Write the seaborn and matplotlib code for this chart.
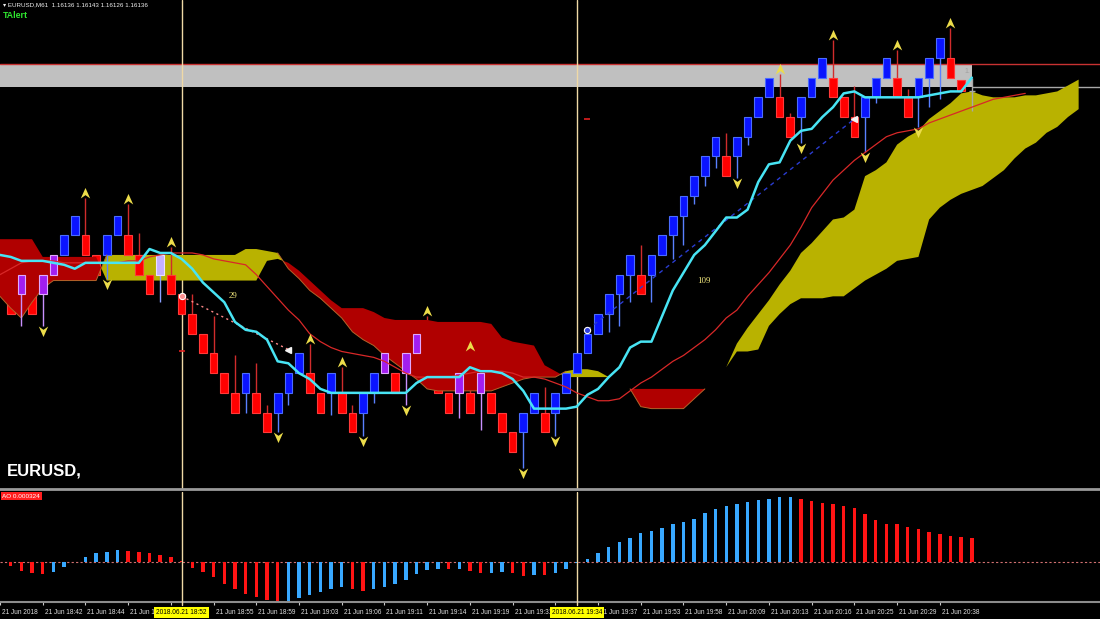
import numpy as np
import pandas as pd
import matplotlib
matplotlib.use("Agg")
import matplotlib.pyplot as plt
import matplotlib.transforms as mtransforms
from matplotlib.path import Path
import seaborn as sns

# ---------------- data ----------------
candle_bars = list(range(1, 92))
opens = [1.16033, 1.16033, 1.16033, 1.16033, 1.16043, 1.16053, 1.16063, 1.16063, 1.16053, 1.16053,
         1.16063, 1.16063, 1.16053, 1.16043, 1.16043, 1.16043, 1.16033, 1.16023, 1.16013, 1.16003,
         1.15993, 1.15983, 1.15983, 1.15983, 1.15973, 1.15973, 1.15983, 1.15993, 1.15993, 1.15983,
         1.15983, 1.15983, 1.15973, 1.15973, 1.15983, 1.15993, 1.15993, 1.15993, 1.16003, 1.16003,
         1.15993, 1.15983, 1.15983, 1.15983, 1.15983, 1.15983, 1.15973, 1.15963, 1.15963, 1.15973,
         1.15973, 1.15973, 1.15983, 1.15993, 1.16003, 1.16013, 1.16023, 1.16033, 1.16043, 1.16043,
         1.16043, 1.16053, 1.16063, 1.16073, 1.16083, 1.16093, 1.16103, 1.16103, 1.16103, 1.16113,
         1.16123, 1.16133, 1.16133, 1.16123, 1.16123, 1.16133, 1.16143, 1.16143, 1.16133, 1.16123,
         1.16123, 1.16133, 1.16143, 1.16143, 1.16133, 1.16133, 1.16143, 1.16153, 1.16153, 1.16142,
         1.16136]
highs = [1.16033, 1.16043, 1.16033, 1.16043, 1.16053, 1.16063, 1.16073, 1.16082, 1.16053, 1.16063,
         1.16073, 1.16079, 1.16064, 1.16043, 1.16053, 1.16057, 1.16033, 1.16033, 1.16013, 1.16022,
         1.15993, 1.16002, 1.15993, 1.15998, 1.15977, 1.15983, 1.15993, 1.16003, 1.16008, 1.15983,
         1.15993, 1.15996, 1.15977, 1.15983, 1.15993, 1.16003, 1.15993, 1.16003, 1.16013, 1.16022,
         1.15993, 1.15983, 1.15993, 1.16004, 1.15993, 1.15983, 1.15973, 1.15963, 1.15973, 1.15983,
         1.15986, 1.15983, 1.15993, 1.16003, 1.16013, 1.16023, 1.16033, 1.16043, 1.16053, 1.16058,
         1.16053, 1.16063, 1.16073, 1.16083, 1.16093, 1.16103, 1.16113, 1.16115, 1.16113, 1.16123,
         1.16133, 1.16143, 1.16145, 1.16125, 1.16133, 1.16143, 1.16153, 1.16162, 1.16133, 1.16139,
         1.16133, 1.16143, 1.16153, 1.16157, 1.16137, 1.16143, 1.16153, 1.16163, 1.16168, 1.16142,
         1.16143]
lows = [1.16023, 1.16017, 1.16023, 1.16017, 1.16043, 1.16053, 1.16063, 1.16053, 1.16043, 1.16041,
        1.16063, 1.16053, 1.16043, 1.16033, 1.16029, 1.16033, 1.16023, 1.16013, 1.16003, 1.15993,
        1.15983, 1.15973, 1.15973, 1.15973, 1.15963, 1.15963, 1.15977, 1.15993, 1.15983, 1.15973,
        1.15972, 1.15973, 1.15963, 1.15961, 1.15978, 1.15993, 1.15983, 1.15977, 1.16003, 1.15993,
        1.15983, 1.15973, 1.15970, 1.15973, 1.15964, 1.15973, 1.15963, 1.15953, 1.15945, 1.15973,
        1.15963, 1.15961, 1.15983, 1.15993, 1.16003, 1.16013, 1.16014, 1.16017, 1.16029, 1.16033,
        1.16029, 1.16053, 1.16051, 1.16058, 1.16079, 1.16088, 1.16097, 1.16093, 1.16092, 1.16109,
        1.16123, 1.16133, 1.16123, 1.16113, 1.16110, 1.16133, 1.16143, 1.16133, 1.16123, 1.16113,
        1.16105, 1.16130, 1.16143, 1.16133, 1.16123, 1.16118, 1.16128, 1.16132, 1.16143, 1.16136,
        1.16126]
closes = [1.16023, 1.16043, 1.16023, 1.16043, 1.16053, 1.16063, 1.16073, 1.16053, 1.16043, 1.16063,
          1.16073, 1.16053, 1.16043, 1.16033, 1.16053, 1.16033, 1.16023, 1.16013, 1.16003, 1.15993,
          1.15983, 1.15973, 1.15993, 1.15973, 1.15963, 1.15983, 1.15993, 1.16003, 1.15983, 1.15973,
          1.15993, 1.15973, 1.15963, 1.15983, 1.15993, 1.16003, 1.15983, 1.16003, 1.16013, 1.15993,
          1.15983, 1.15973, 1.15993, 1.15973, 1.15993, 1.15973, 1.15963, 1.15953, 1.15973, 1.15983,
          1.15963, 1.15983, 1.15993, 1.16003, 1.16013, 1.16023, 1.16033, 1.16043, 1.16053, 1.16033,
          1.16053, 1.16063, 1.16073, 1.16083, 1.16093, 1.16103, 1.16113, 1.16093, 1.16113, 1.16123,
          1.16133, 1.16143, 1.16123, 1.16113, 1.16133, 1.16143, 1.16153, 1.16133, 1.16123, 1.16113,
          1.16133, 1.16143, 1.16153, 1.16133, 1.16123, 1.16143, 1.16153, 1.16163, 1.16143, 1.16136,
          1.16136]
# '' = normal candle, 'p' = purple signal candle, 'l' = lavender signal candle
candle_tags = ['', 'p', '', 'p', 'p', '', '', '', '', '',
               '', '', '', '', 'l', '', '', '', '', '',
               '', '', '', '', '', '', '', '', '', '',
               '', '', '', '', '', 'p', '', 'p', 'p', '',
               '', '', 'p', '', 'p', '', '', '', '', '',
               '', '', '', '', '', '', '', '', '', '',
               '', '', '', '', '', '', '', '', '', '',
               '', '', '', '', '', '', '', '', '', '',
               '', '', '', '', '', '', '', '', '', '',
               '']

line_bars = list(range(0, 92))
cyan_line = [1.16053, 1.16052, 1.16050, 1.16050, 1.16050, 1.16049, 1.16048, 1.16046, 1.16049, 1.16049,
             1.16049, 1.16049, 1.16049, 1.16049, 1.16056, 1.16054, 1.16054, 1.16051, 1.16046, 1.16039,
             1.16034, 1.16029, 1.16019, 1.16015, 1.16014, 1.16010, 1.15999, 1.15998, 1.15993, 1.15990,
             1.15985, 1.15983, 1.15983, 1.15983, 1.15983, 1.15983, 1.15983, 1.15983, 1.15983, 1.15988,
             1.15991, 1.15991, 1.15991, 1.15991, 1.15996, 1.15994, 1.15994, 1.15993, 1.15990, 1.15984,
             1.15975, 1.15975, 1.15975, 1.15975, 1.15976, 1.15982, 1.15985, 1.15991, 1.15996, 1.16006,
             1.16009, 1.16009, 1.16022, 1.16035, 1.16044, 1.16053, 1.16058, 1.16065, 1.16072, 1.16072,
             1.16076, 1.16090, 1.16099, 1.16100, 1.16111, 1.16116, 1.16117, 1.16123, 1.16128, 1.16135,
             1.16136, 1.16133, 1.16133, 1.16133, 1.16133, 1.16133, 1.16133, 1.16134, 1.16135, 1.16136,
             1.16136, 1.16143]

ma_bars = list(range(0, 97))
red_line = [1.16043, 1.16046, 1.16049, 1.16050, 1.16050, 1.16050, 1.16049, 1.16049, 1.16049, 1.16049,
            1.16049, 1.16049, 1.16050, 1.16050, 1.16052, 1.16053, 1.16054, 1.16054, 1.16054, 1.16053,
            1.16051, 1.16050, 1.16049, 1.16048, 1.16043, 1.16037, 1.16031, 1.16025, 1.16020, 1.16013,
            1.16009, 1.16006, 1.16004, 1.16003, 1.16002, 1.16001, 1.15999, 1.15996, 1.15993, 1.15991,
            1.15991, 1.15991, 1.15991, 1.15992, 1.15993, 1.15994, 1.15994, 1.15994, 1.15993, 1.15991,
            1.15991, 1.15990, 1.15988, 1.15986, 1.15983, 1.15981, 1.15979, 1.15979, 1.15980, 1.15984,
            1.15988, 1.15991, 1.15995, 1.15999, 1.16002, 1.16006, 1.16010, 1.16015, 1.16021, 1.16025,
            1.16032, 1.16038, 1.16044, 1.16051, 1.16058, 1.16067, 1.16077, 1.16084, 1.16091, 1.16096,
            1.16101, 1.16105, 1.16109, 1.16113, 1.16115, 1.16116, 1.16117, 1.16120, 1.16122, 1.16124,
            1.16126, 1.16128, 1.16130, 1.16132, 1.16133, 1.16134, 1.16135]

cloud_bars = list(range(0, 102))
span_a = [1.16032, 1.16026, 1.16021, 1.16029, 1.16036, 1.16040, 1.16040, 1.16040, 1.16040, 1.16040,
          1.16053, 1.16053, 1.16053, 1.16053, 1.16053, 1.16053, 1.16053, 1.16053, 1.16053, 1.16053,
          1.16053, 1.16053, 1.16053, 1.16056, 1.16056, 1.16055, 1.16054, 1.16046, 1.16041, 1.16035,
          1.16031, 1.16026, 1.16021, 1.16014, 1.16010, 1.16007, 1.16002, 1.15998, 1.15994, 1.15990,
          1.15985, 1.15984, 1.15984, 1.15984, 1.15984, 1.15984, 1.15984, 1.15986, 1.15988, 1.15990,
          1.15991, 1.15991, 1.15991, 1.15994, 1.15995, 1.15995, 1.15994, 1.15991, 1.15988, 1.15985,
          1.15976, 1.15975, 1.15975, 1.15975, 1.15975, 1.15980, 1.15985, 1.15991, 1.15996, 1.16008,
          1.16016, 1.16023, 1.16030, 1.16038, 1.16045, 1.16054, 1.16059, 1.16065, 1.16071, 1.16072,
          1.16076, 1.16093, 1.16096, 1.16100, 1.16109, 1.16113, 1.16116, 1.16122, 1.16126, 1.16130,
          1.16135, 1.16136, 1.16134, 1.16133, 1.16133, 1.16133, 1.16134, 1.16134, 1.16135, 1.16136,
          1.16139, 1.16142]
span_b = [1.16061, 1.16061, 1.16061, 1.16061, 1.16052, 1.16052, 1.16052, 1.16052, 1.16052, 1.16052,
          1.16040, 1.16040, 1.16040, 1.16040, 1.16040, 1.16040, 1.16040, 1.16040, 1.16040, 1.16040,
          1.16040, 1.16040, 1.16040, 1.16040, 1.16040, 1.16050, 1.16051, 1.16049, 1.16045, 1.16040,
          1.16035, 1.16030, 1.16026, 1.16026, 1.16026, 1.16024, 1.16021, 1.16020, 1.16020, 1.16020,
          1.16020, 1.16019, 1.16019, 1.16019, 1.16019, 1.16019, 1.16018, 1.16011, 1.16009, 1.16008,
          1.16007, 1.15997, 1.15994, 1.15991, 1.15991, 1.15991, 1.15991, 1.15991, 1.15988, 1.15985,
          1.15985, 1.15985, 1.15985, 1.15985, 1.15985, 1.15985, 1.15985, 1.15991, 1.15996, 1.16004,
          1.16004, 1.16005, 1.16017, 1.16023, 1.16028, 1.16031, 1.16031, 1.16031, 1.16032, 1.16032,
          1.16036, 1.16040, 1.16043, 1.16046, 1.16050, 1.16051, 1.16052, 1.16071, 1.16077, 1.16081,
          1.16084, 1.16086, 1.16088, 1.16092, 1.16096, 1.16102, 1.16107, 1.16110, 1.16115, 1.16118,
          1.16123, 1.16127]

ao_bars = list(range(1, 92))
ao_e5 = [-5.4, -12.2, -14.9, -16.2, -13.5, -6.8, 0.4, 6.8, 12.2, 13.5,
         16.2, 14.9, 13.5, 12.2, 9.5, 6.8, 1.4, -8.1, -13.5, -20.3,
         -29.7, -36.5, -43.2, -47.3, -51.3, -54.0, -52.7, -48.6, -44.6, -40.5,
         -36.5, -33.8, -36.5, -39.2, -36.5, -33.8, -29.7, -24.3, -16.2, -10.8,
         -9.5, -9.8, -9.3, -12.2, -15.2, -14.9, -13.5, -14.9, -18.9, -17.6,
         -17.8, -14.9, -9.5, -0.8, 4.1, 12.2, 20.3, 27.0, 32.4, 39.2,
         41.9, 45.9, 51.3, 54.0, 58.1, 66.2, 71.6, 75.6, 78.3, 81.0,
         83.7, 85.1, 87.8, 88.2, 85.1, 82.4, 79.7, 78.3, 75.6, 72.9,
         64.8, 56.7, 51.3, 51.0, 47.3, 44.6, 40.5, 37.8, 35.1, 33.8,
         32.4]

up_fractals = [8, 12, 16, 29, 32, 40, 44, 73, 78, 84, 89]
down_fractals = [4, 10, 26, 34, 38, 49, 52, 69, 75, 81, 86]

trend1_bars = [17, 27]
trend1_prices = [1.16032, 1.16005]
trend2_bars = [55, 80]
trend2_prices = [1.16015, 1.16122]
trend_label_texts = ["29", "109"]
trend_label_bars = [21.8, 65.9]
trend_label_prices = [1.16032, 1.16040]
target_bars = [17, 55]
target_prices = [1.16004, 1.16122]

band_high = 1.16150
band_low = 1.16138
band_end_bar = 91

vline_bars = [17, 54]
vline_labels = ["2018.06.21 18:52", "2018.06.21 19:34"]

tick_bars = list(range(0, 89, 4))
tick_labels = ["21 Jun 2018", "21 Jun 18:42", "21 Jun 18:44", "21 Jun 18:48", "",
               "21 Jun 18:55", "21 Jun 18:59", "21 Jun 19:03", "21 Jun 19:06", "21 Jun 19:11",
               "21 Jun 19:14", "21 Jun 19:19", "21 Jun 19:31", "", "21 Jun 19:37",
               "21 Jun 19:53", "21 Jun 19:58", "21 Jun 20:09", "21 Jun 20:13", "21 Jun 20:16",
               "21 Jun 20:25", "21 Jun 20:29", "21 Jun 20:38"]

header_text = "\u25be EURUSD,M61  1.16136 1.16143 1.16126 1.16136"
ao_text = "AO 0.000324"

# ---------------- style ----------------
sns.set_theme(style="dark", rc={"axes.facecolor": "black", "figure.facecolor": "black",
                                "axes.grid": False, "axes.edgecolor": "black"})
plt.rcParams['font.family'] = ['Liberation Sans', 'DejaVu Sans']
SANS = ['Liberation Sans', 'DejaVu Sans']

fig = plt.figure(figsize=(11, 6.19), dpi=100)
fig.patch.set_facecolor('black')
ax = fig.add_axes([0, 130 / 619, 1, 489 / 619])
ax2 = fig.add_axes([0, 17 / 619, 1, 110 / 619])

for a in (ax, ax2):
    a.set_facecolor('black')
    a.grid(False)
    for s in a.spines.values():
        s.set_visible(False)

# ---------------- main pane ----------------
xc = np.array(cloud_bars)
A = np.array(span_a)
B = np.array(span_b)
ax.fill_between(xc, A, B, where=A >= B, interpolate=True, color='#b9b200', lw=0, zorder=1)
ax.fill_between(xc, A, B, where=A < B, interpolate=True, color='#b00000', lw=0, zorder=3)
red_mask = A < B
near = red_mask | np.roll(red_mask, 1) | np.roll(red_mask, -1)
ax.plot(xc, np.where(near, A, np.nan), color='#b4642a', lw=0.7, zorder=3.2)

# resistance band
ax.fill_between([0, band_end_bar], band_low, band_high, color='#c0c0c0', lw=0, zorder=0.5)
ax.axhline(band_high, color='#c83232', lw=1.0, zorder=0.6)
ax.hlines(band_low, band_end_bar, 103, color='#a8a8a8', lw=1.0, zorder=0.6)

# candles
O = np.array(opens); Hh = np.array(highs); Lw = np.array(lows); Cc = np.array(closes)
xb = np.array(candle_bars); tags = np.array(candle_tags)
body_lo = np.minimum(O, Cc)
body_h = np.abs(Cc - O)
bull = Cc > O
bear = Cc < O
doji = Cc == O


def draw_candles(mask, fc, ec, wc, z):
    if not mask.any():
        return
    ax.vlines(xb[mask], Lw[mask], Hh[mask], color=wc, lw=1.0, zorder=z - 0.1)
    ax.bar(xb[mask], body_h[mask], bottom=body_lo[mask], width=0.72, color=fc,
           edgecolor=ec, linewidth=0.8, zorder=z)


draw_candles(bull & (tags == ''), '#0a14ff', '#4a6cff', '#5a80ff', 2)
draw_candles(bear & (tags == ''), '#ff0000', '#ff3a3a', '#d02c2c', 2)
draw_candles(tags == 'p', '#a21ef0', '#e0a8ff', '#c890ff', 4)
draw_candles(tags == 'l', '#c4b0ff', '#ece0ff', '#8aa0ff', 4)
dm = doji & (tags == '')
ax.vlines(xb[dm], Lw[dm], Hh[dm], color='#a8a8a8', lw=1.0, zorder=4)
ax.hlines(Cc[dm], xb[dm] - 0.3, xb[dm] + 0.3, color='#a8a8a8', lw=1.0, zorder=4)

# indicator lines via seaborn
df_cyan = pd.DataFrame({"bar": line_bars, "price": cyan_line})
df_red = pd.DataFrame({"bar": ma_bars, "price": red_line})
sns.lineplot(data=df_red, x="bar", y="price", ax=ax, color='#d82828', lw=0.9,
             estimator=None, sort=True, zorder=5)
sns.lineplot(data=df_cyan, x="bar", y="price", ax=ax, color='#48e4f4', lw=1.8,
             estimator=None, sort=True, zorder=5.5)

# trend lines
ax.plot(trend1_bars, trend1_prices, color='#ff8a8a', lw=1.0, ls=(0, (1.5, 2.5)), zorder=5.2)
ax.plot(trend2_bars, trend2_prices, color='#2a3cd0', lw=1.0, ls=(0, (3, 3)), zorder=5.2)
ax.plot(trend1_bars[0], trend1_prices[0], 'o', ms=4.5, mfc='#ff9090', mec='white', mew=0.8, zorder=6)
ax.plot(trend2_bars[0], trend2_prices[0], 'o', ms=4.5, mfc='#3040e0', mec='white', mew=0.8, zorder=6)
ax.plot([trend1_bars[1], trend2_bars[1]], [trend1_prices[1], trend2_prices[1]], '<',
        ms=4, color='#f4f4f4', zorder=6)
ax.plot(target_bars, target_prices, '_', ms=5, mew=1.2, color='#e02020', zorder=6)
for t, bx, py in zip(trend_label_texts, trend_label_bars, trend_label_prices):
    ax.text(bx, py, t, color='#ece27a', fontsize=6.5, family=['Liberation Serif', 'DejaVu Serif'],
            ha='center', va='center', zorder=7)

# fractal arrows
up_path = Path([(0, 1), (0.85, -0.9), (0, -0.3), (-0.85, -0.9), (0, 1)],
               [Path.MOVETO, Path.LINETO, Path.LINETO, Path.LINETO, Path.CLOSEPOLY])
dn_path = Path([(0, -1), (0.85, 0.9), (0, 0.3), (-0.85, 0.9), (0, -1)],
               [Path.MOVETO, Path.LINETO, Path.LINETO, Path.LINETO, Path.CLOSEPOLY])
tr_up = mtransforms.offset_copy(ax.transData, fig=fig, x=0, y=5, units='dots')
tr_dn = mtransforms.offset_copy(ax.transData, fig=fig, x=0, y=-5, units='dots')
ui = np.array(up_fractals) - 1
di = np.array(down_fractals) - 1
ax.plot(xb[ui], Hh[ui], ls='none', marker=up_path, ms=8, color='#ecdc4a', mew=0,
        transform=tr_up, zorder=6)
ax.plot(xb[di], Lw[di], ls='none', marker=dn_path, ms=8, color='#ecdc4a', mew=0,
        transform=tr_dn, zorder=6)

ax.text(90.6, 1.16146, "1.", color='#a0a0a0', fontsize=5, ha='center', va='center', zorder=7)

for vb in vline_bars:
    ax.axvline(vb, color='#efd9a6', lw=1.0, zorder=0.8)

ax.set_xlim(0, 103)
ax.set_ylim(1.159342, 1.161824)
ax.set_xticks([])
ax.set_yticks([])
ax.set_xlabel('')
ax.set_ylabel('')
ax.spines['bottom'].set_visible(True)
ax.spines['bottom'].set_color('#9a9a9a')
ax.spines['bottom'].set_linewidth(2.0)

ax.text(7 / 1100, (489 - 471) / 489, "EURUSD,", transform=ax.transAxes, color='white',
        fontsize=12, fontweight='bold', family=SANS, ha='left', va='center', zorder=8)

# ---------------- AO pane ----------------
ao = np.array(ao_e5) * 1e-5
prev = np.concatenate([[np.inf], ao[:-1]])
ao_colors = np.where(ao > prev, '#38a8ff', '#ff1414')
ax2.bar(ao_bars, ao, width=0.32, color=ao_colors, lw=0, zorder=2)
ax2.axhline(0, color='#d07070', lw=0.8, ls=(0, (2, 2)), zorder=1)
for vb in vline_bars:
    ax2.axvline(vb, color='#efd9a6', lw=1.0, zorder=3)
    ax2.axvline(vb, ymin=-0.03, ymax=0, color='#efd9a6', lw=1.0, zorder=3, clip_on=False)
ax2.set_xlim(0, 103)
ax2.set_ylim(-0.00054, 0.000945)
ax2.set_yticks([])
ax2.set_xlabel('')
ax2.spines['bottom'].set_visible(True)
ax2.spines['bottom'].set_color('#8c8c8c')
ax2.spines['bottom'].set_linewidth(1.5)
ax2.set_xticks(tick_bars)
ax2.set_xticklabels(tick_labels, ha='left', fontsize=4.7, color='#e0e0e0', family=SANS)
ax2.tick_params(axis='x', direction='out', length=2.5, width=0.8, color='#c8c8c8', pad=2.5,
                bottom=True)
shift = mtransforms.ScaledTranslation(2 / 100, 0, fig.dpi_scale_trans)
for lab in ax2.get_xticklabels():
    lab.set_transform(lab.get_transform() + shift)

blend = mtransforms.blended_transform_factory(ax2.transData, ax2.transAxes)
for vb, txt in zip(vline_bars, vline_labels):
    ax2.text(vb, -0.095, txt, transform=blend, ha='center', va='center', fontsize=4.7,
             color='black', family=SANS, zorder=10, clip_on=False,
             bbox=dict(boxstyle='square,pad=0.3', fc='#ffff00', ec='none'))

ax2.text(0.002, 0.985, ao_text, transform=ax2.transAxes, va='top', ha='left', fontsize=4.6,
         color='white', zorder=10,
         bbox=dict(boxstyle='square,pad=0.25', fc='#ff1e1e', ec='none'))

# ---------------- header ----------------
fig.text(3 / 1100, 1 - 5 / 619, header_text, fontsize=4.5, color='#f0f0f0', va='center',
         ha='left', family=SANS)
fig.text(3 / 1100, 1 - 15 / 619, "TAlert", fontsize=6.3, color='#2fe82f', fontweight='bold',
         va='center', ha='left')

fig.savefig("out.png", dpi=100, facecolor='black')
